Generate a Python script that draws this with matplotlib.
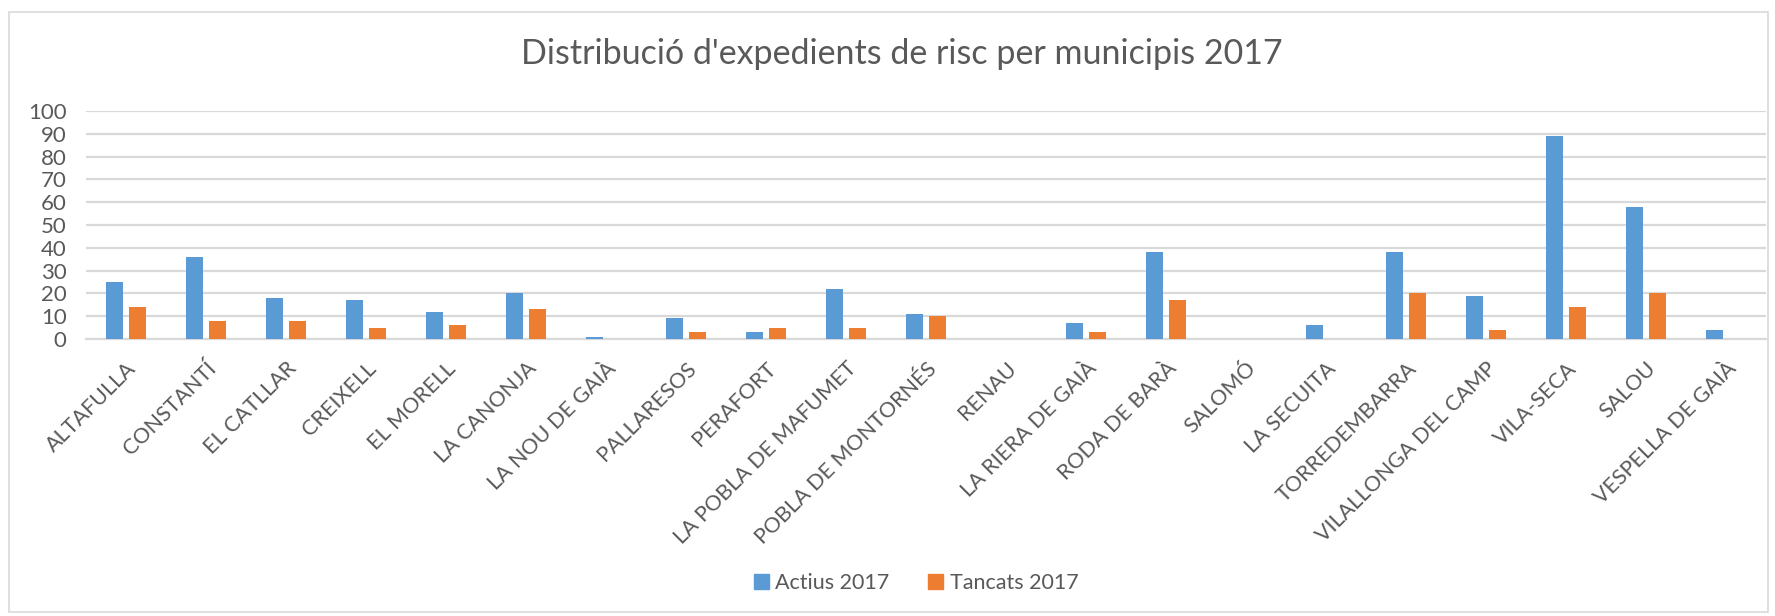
import matplotlib
matplotlib.use("Agg")
import matplotlib.pyplot as plt
import numpy as np
from matplotlib.patches import Rectangle, Patch

municipis = ["ALTAFULLA", "CONSTANTÍ", "EL CATLLAR", "CREIXELL", "EL MORELL",
             "LA CANONJA", "LA NOU DE GAIÀ", "PALLARESOS", "PERAFORT",
             "LA POBLA DE MAFUMET", "POBLA DE MONTORNÉS", "RENAU",
             "LA RIERA DE GAIÀ", "RODA DE BARÀ", "SALOMÓ", "LA SECUITA",
             "TORREDEMBARRA", "VILALLONGA DEL CAMP", "VILA-SECA", "SALOU",
             "VESPELLA DE GAIÀ"]
actius = [25, 36, 18, 17, 12, 20, 1, 9, 3, 22, 11, 0, 7, 38, 0, 6, 38, 19, 89, 58, 4]
tancats = [14, 8, 8, 5, 6, 13, 0, 3, 5, 5, 10, 0, 3, 17, 0, 0, 20, 4, 14, 20, 0]
yticks = list(range(0, 101, 10))

plt.rcParams['font.family'] = ['Lato', 'DejaVu Sans']
TXT = '#595959'
GRID = '#d9d9d9'

fig = plt.figure(figsize=(17.75, 6.16), dpi=100)
fig.patches.append(Rectangle((9 / 1775, 4 / 616), 1759 / 1775, 600 / 616,
                             transform=fig.transFigure, fill=False,
                             edgecolor=GRID, linewidth=1.2))

ax = fig.add_axes([86 / 1775, 1 - 339 / 616, 1680 / 1775, 228 / 616])
x = np.arange(len(municipis))
w = 0.22
ax.bar(x - 0.145, actius, w, color='#5B9BD5', label='Actius 2017', zorder=3)
ax.bar(x + 0.145, tancats, w, color='#ED7D31', label='Tancats 2017', zorder=3)

ax.set_xlim(-0.5, len(municipis) - 0.5)
ax.set_ylim(0, 100)
ax.set_yticks(yticks)
ax.yaxis.grid(True, color=GRID, linewidth=1.6, zorder=0)
ax.set_axisbelow(True)
for s in ['top', 'right', 'left']:
    ax.spines[s].set_visible(False)
ax.spines['bottom'].set_color(GRID)
ax.spines['bottom'].set_linewidth(1.6)
ax.tick_params(axis='y', length=0, colors=TXT, labelsize=16, pad=14)
ax.set_xticks(x)
ax.set_xticklabels(municipis, rotation=45, ha='right', rotation_mode='anchor')
ax.tick_params(axis='x', length=0, colors=TXT, labelsize=15.5, pad=14)

fig.text(0.508, 1 - 54 / 616, "Distribució d'expedients de risc per municipis 2017",
         ha='center', va='center', fontsize=24.5, color=TXT)

handles = [Patch(color='#5B9BD5'), Patch(color='#ED7D31')]
fig.legend(handles, ['Actius 2017', 'Tancats 2017'], loc='center',
           bbox_to_anchor=(916 / 1775, 1 - 583 / 616), ncol=2, frameon=False,
           fontsize=15.5, labelcolor=TXT, handlelength=0.7, handleheight=0.7,
           handletextpad=0.3, columnspacing=1.8)

fig.savefig('out.png', dpi=100, facecolor='white')
